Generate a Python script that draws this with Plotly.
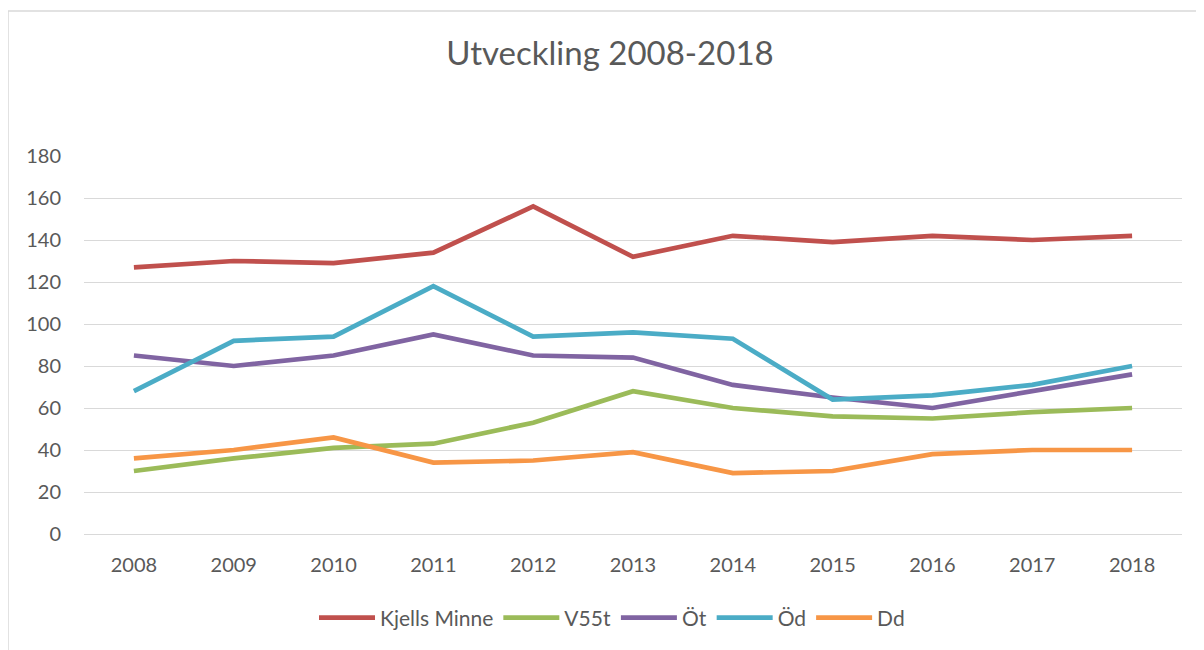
import plotly.graph_objects as go

years = ["2008", "2009", "2010", "2011", "2012", "2013", "2014", "2015", "2016", "2017", "2018"]
kjells_minne = [127, 130, 129, 134, 156, 132, 142, 139, 142, 140, 142]
v55t = [30, 36, 41, 43, 53, 68, 60, 56, 55, 58, 60]
ot = [85, 80, 85, 95, 85, 84, 71, 65, 60, 68, 76]
od = [68, 92, 94, 118, 94, 96, 93, 64, 66, 71, 80]
dd = [36, 40, 46, 34, 35, 39, 29, 30, 38, 40, 40]

series = [
    ("Kjells Minne", kjells_minne, "#C0504D"),
    ("V55t", v55t, "#9BBB59"),
    ("Öt", ot, "#8064A2"),
    ("Öd", od, "#4BACC6"),
    ("Dd", dd, "#F79646"),
]

FONT = "Lato"
TXT = "#595959"
OFF = 8  # page body margin offset

fig = go.Figure()
for name, vals, color in series:
    fig.add_trace(go.Scatter(
        x=years, y=vals, name=name, mode="lines",
        line=dict(color=color, width=4.7, shape="linear"),
    ))

W, H = 1204, 650
# target pixel positions in the screenshot
L, R, T, B = 84, 1182, 156, 534
Lf, Rf, Tf, Bf = L - OFF, R - OFF, T - OFF, B - OFF
pw, ph = Rf - Lf, Bf - Tf

def px_x(x):
    return (x - OFF - Lf) / pw

def px_y(y):
    return (Bf - (y - OFF)) / ph

fig.update_layout(
    width=W, height=H,
    margin=dict(l=Lf, r=W - Rf, t=Tf, b=H - Bf, pad=0),
    paper_bgcolor="white", plot_bgcolor="white",
    font=dict(family=FONT, color=TXT, size=20),
    title=dict(text="Utveckling 2008-2018", x=(610 - OFF) / W, xref="container", xanchor="center",
               y=1 - (53 - OFF) / H, yref="container", yanchor="middle",
               font=dict(family=FONT, size=33, color=TXT)),
    showlegend=True,
    legend=dict(orientation="h", x=px_x(612), xanchor="center", y=px_y(618), yanchor="middle",
                font=dict(family=FONT, size=21, color=TXT), itemwidth=56,
                bgcolor="rgba(0,0,0,0)", traceorder="normal"),
    xaxis=dict(type="category", range=[-0.5, 10.5], showgrid=False, zeroline=False,
               showline=False, ticks="", ticklabelstandoff=17,
               tickfont=dict(family=FONT, size=20, color=TXT)),
    yaxis=dict(range=[0, 180], dtick=20, tick0=0, showgrid=True, gridcolor="#D9D9D9", gridwidth=1.3,
               zeroline=True, zerolinecolor="#D9D9D9", zerolinewidth=1.3, showline=False,
               ticks="", ticklabelstandoff=22,
               tickfont=dict(family=FONT, size=20, color=TXT)),
    shapes=[dict(type="rect", xref="paper", yref="paper",
                 x0=px_x(8), x1=px_x(1220), y0=px_y(670), y1=px_y(11),
                 line=dict(color="#D9D9D9", width=1.5), fillcolor="rgba(0,0,0,0)", layer="below")],
)

fig.write_html("out.html")
